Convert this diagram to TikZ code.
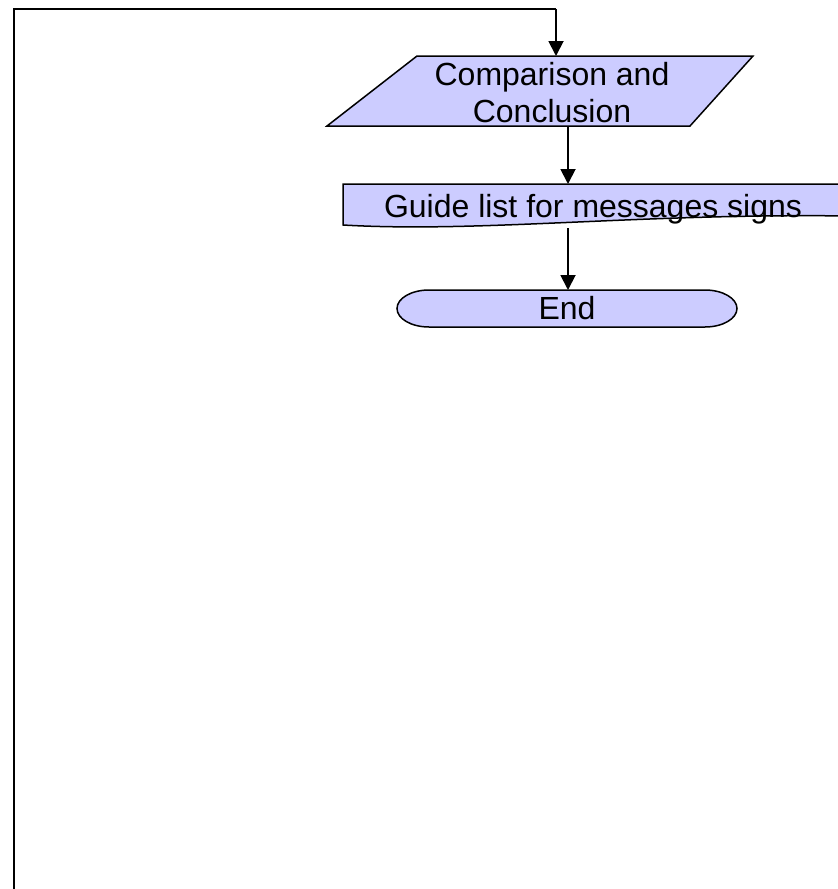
\documentclass[tikz,border=0pt]{standalone}
\usepackage{fontspec}
\setmainfont{Liberation Sans}
\usetikzlibrary{arrows.meta}
\definecolor{lav}{HTML}{CCCCFF}
\begin{document}
\begin{tikzpicture}[x=1pt,y=-1pt,
  shapeline/.style={draw=black,line width=1.5pt,fill=lav,line join=miter},
  conn/.style={draw=black,line width=1.9pt,-{Triangle[length=15pt,width=15pt]}},
  loopline/.style={draw=black,line width=1.7pt},
  lbl/.style={font=\fontsize{32}{37}\selectfont,align=center,inner sep=0pt}]
\useasboundingbox (0,0) rectangle (838,889);
\clip (0,0) rectangle (838,889);
% shapes
\draw[shapeline] (417,56) -- (753,56) -- (690,126) -- (327,126) -- cycle;
\draw[shapeline] (343,184) -- (850,184) -- (850,216)
  .. controls (640,213) and (480,233) .. (343,225) -- cycle;
\draw[shapeline] (429,290) -- (705,290)
  arc[start angle=90,end angle=-90,x radius=32pt,y radius=18.5pt]
  -- (429,327)
  arc[start angle=270,end angle=90,x radius=32pt,y radius=18.5pt] -- cycle;
% labels
\node[lbl] (cmp) at (552,93) {Comparison and\\Conclusion};
\node[lbl,anchor=base] (guide) at (593,217) {Guide list for messages signs};
\node[lbl,anchor=base] (endn) at (567,319) {End};
% anchor points
\coordinate (loopstart) at (14,889);
\coordinate (corner) at (556,9);
\coordinate (cmptop) at (556,56);
\coordinate (cmpbot) at (568,126);
\coordinate (guidetop) at (568,184);
\coordinate (guidebot) at (568,228);
\coordinate (endtop) at (568,290);
% connectors
\draw[loopline] (loopstart) |- (corner);
\draw[conn] (corner) -- (cmptop);
\draw[conn] (cmpbot) -- (guidetop);
\draw[conn] (guidebot) -- (endtop);
\end{tikzpicture}
\end{document}
